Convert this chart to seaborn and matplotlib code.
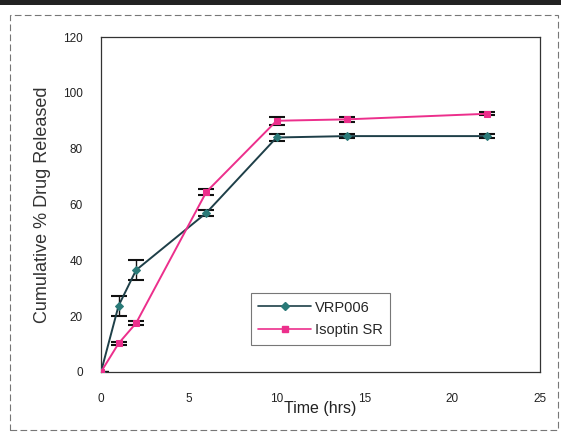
import matplotlib
matplotlib.use("Agg")
import matplotlib.pyplot as plt
import seaborn as sns
import pandas as pd
from matplotlib.patches import Rectangle
from matplotlib.lines import Line2D

# Dissolution profile data
time_hrs = [0, 1, 2, 6, 10, 14, 22]
vrp006 = [0, 23.7, 36.5, 57.0, 84.0, 84.5, 84.5]
vrp006_err = [0, 3.5, 3.5, 1.0, 1.2, 0.6, 0.6]
isoptin = [0, 10.2, 17.5, 64.5, 90.0, 90.5, 92.5]
isoptin_err = [0, 0.5, 0.6, 1.2, 1.5, 0.8, 0.6]

series_names = ["VRP006", "Isoptin SR"]
x_ticks = [0, 5, 10, 15, 20, 25]
y_ticks = [0, 20, 40, 60, 80, 100, 120]

df = pd.DataFrame({
    "Time (hrs)": time_hrs * 2,
    "Release": vrp006 + isoptin,
    "Formulation": [series_names[0]] * len(time_hrs) + [series_names[1]] * len(time_hrs),
})

sns.set_theme(style="white")
plt.rcParams["font.family"] = ["Liberation Sans", "DejaVu Sans"]

fig = plt.figure(figsize=(5.61, 4.34), dpi=100)
ax = fig.add_axes([0.18, 0.143, 0.7826, 0.7717])

line_colors = {"VRP006": "#1e3f48", "Isoptin SR": "#ec2f8c"}
marker_faces = {"VRP006": "#2a7a78", "Isoptin SR": "#ec2f8c"}

# error bars first so the markers sit on top
for vals, errs in [(vrp006, vrp006_err), (isoptin, isoptin_err)]:
    ax.errorbar(time_hrs, vals, yerr=errs, fmt="none", ecolor="#111111",
                elinewidth=1.0, capsize=5.5, capthick=1.5, zorder=2)

sns.lineplot(data=df, x="Time (hrs)", y="Release", hue="Formulation",
             style="Formulation", markers={"VRP006": "D", "Isoptin SR": "s"},
             dashes=False, palette=line_colors, linewidth=1.4, markersize=4.2,
             ax=ax, zorder=3, legend=False)

# recolour marker faces
for ln, name in zip(ax.get_lines()[-2:], series_names):
    ln.set_markerfacecolor(marker_faces[name])
    ln.set_markeredgecolor(marker_faces[name])

ax.set_xlim(0, 25)
ax.set_ylim(0, 120)
ax.set_xticks(x_ticks)
ax.set_yticks(y_ticks)
ax.tick_params(axis="both", direction="out", length=3, width=0.8,
               color="#333333", labelsize=8.5, labelcolor="#222222")
ax.tick_params(axis="x", pad=12)
ax.tick_params(axis="y", pad=10)
ax.set_xlabel("Time (hrs)", fontsize=11.5, labelpad=-3, color="#222222")
ax.set_ylabel("Cumulative % Drug Released", fontsize=13, labelpad=9, color="#333333")
for sp in ax.spines.values():
    sp.set_visible(True)
    sp.set_color("#333333")
    sp.set_linewidth(0.9)

# legend
handles = [Line2D([0], [0], color=line_colors[n], marker=("D" if n == "VRP006" else "s"),
                  markerfacecolor=marker_faces[n], markeredgecolor=marker_faces[n],
                  markersize=4.2, linewidth=1.2) for n in series_names]
leg = ax.legend(handles, series_names, loc="lower left", bbox_to_anchor=(0.325, 0.06),
                frameon=True, fancybox=False, fontsize=10.5, handlelength=3.6,
                borderpad=0.5, labelspacing=0.6, handletextpad=0.3)
leg.get_frame().set_edgecolor("#555555")
leg.get_frame().set_linewidth(0.8)

# outer chart frame
fig.patches.append(Rectangle((0.017, 0.01), 0.978, 0.955, transform=fig.transFigure,
                             fill=False, edgecolor="#777777", linewidth=0.8,
                             linestyle=(0, (6, 3))))
fig.patches.append(Rectangle((0, 0.988), 1, 0.012, transform=fig.transFigure,
                             facecolor="#222222", edgecolor="none"))

fig.savefig("out.png", dpi=100)
